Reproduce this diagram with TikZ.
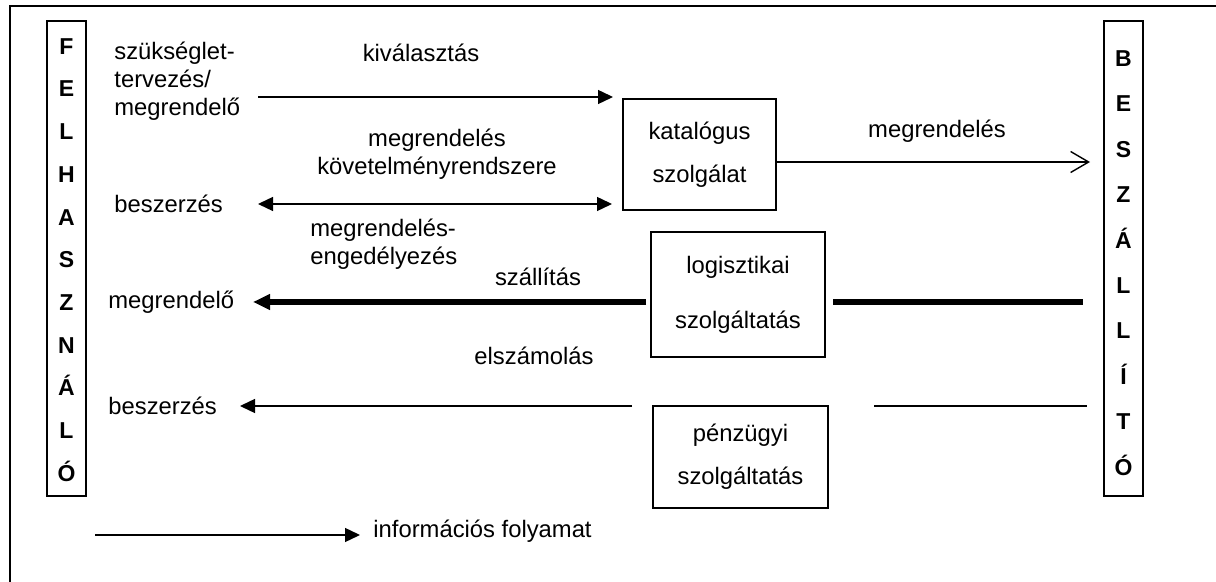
\documentclass[tikz,border=0pt]{standalone}
\usepackage{fontspec}
\setmainfont{Liberation Sans}
\usetikzlibrary{arrows.meta}
\tikzset{
  box/.style={draw,line width=0.8pt,inner sep=0pt,align=center},
  bar/.style={draw,line width=0.8pt,minimum width=19.5pt,minimum height=237.5pt},
  letter/.style={font=\fontsize{11.5}{14}\selectfont\bfseries,anchor=base,inner sep=0pt},
  txt/.style={align=left,anchor=west,inner sep=0pt},
  flow/.style={line width=0.7pt,-{Triangle[length=7.5pt,width=7pt]}},
  goods/.style={line width=3pt,-{Triangle[length=8.5pt,width=7.5pt]}},
}
\begin{document}
\begin{tikzpicture}[x=0.5pt,y=-0.5pt,font=\fontsize{11.9}{14}\selectfont]
\useasboundingbox (0,0) rectangle (1216,582);
\draw[line width=1.1pt] (10,582) -- (10,6) -- (1216,6);
% side bars
\node[bar] (felh) at (66.5,258.5) {};
\node[bar] (besz) at (1123.5,258.5) {};
\foreach \l[count=\i from 0] in {F,E,L,H,A,S,Z,N,Á,L,Ó}
    \node[letter] (f\i) at (66.5,54.3+42.7*\i) {\l};
\foreach \l[count=\i from 0] in {B,E,S,Z,Á,L,L,Í,T,Ó}
    \node[letter] (b\i) at (1123.5,66.5+45.4*\i) {\l};
% services
\node[box,minimum width=76.5pt,minimum height=55.5pt] (katalog) at (699.5,154.5) {katalógus\\[7.5pt]szolgálat};
\node[box,minimum width=87pt,minimum height=62.5pt] (logiszt) at (738,294.5) {logisztikai\\[13.5pt]szolgáltatás};
\node[box,minimum width=87.5pt,minimum height=51pt] (penz) at (740.5,457) {pénzügyi\\[7.5pt]szolgáltatás};
% labels
\node[txt] (igeny) at (114,81) {szükséglet-\\tervezés/\\megrendelő};
\node (kival) at (421,53) {kiválasztás};
\node[align=center] (kovet) at (437,154) {megrendelés\\követelményrendszere};
\node[txt] (besz1) at (114,204) {beszerzés};
\node[txt] (enged) at (310,244) {megrendelés-\\engedélyezés};
\node (szall) at (538,277) {szállítás};
\node[txt] (megr1) at (108,302) {megrendelő};
\node (elsz) at (534,356) {elszámolás};
\node[txt] (besz2) at (108,406) {beszerzés};
\node (rendel) at (937,131) {megrendelés};
\node[txt] (info) at (373,531) {információs folyamat};
% arrow ends
\coordinate (k1) at (258,97);
\coordinate (k2) at (613,97);
\coordinate (m1) at (258,204);
\coordinate (m2) at (612,204);
\coordinate (r1) at (776,162);
\coordinate (r2) at (1090,162);
\coordinate (s1) at (646,302);
\coordinate (s2) at (253,302);
\coordinate (s3) at (833,302);
\coordinate (s4) at (1083,302);
\coordinate (e1) at (632,406);
\coordinate (e2) at (240,406);
\coordinate (e3) at (874,406);
\coordinate (e4) at (1087,406);
\coordinate (i1) at (95,535);
\coordinate (i2) at (360,535);
\draw[flow] (k1) -- (k2);
\draw[flow,{Triangle[length=7.5pt,width=7pt]}-{Triangle[length=7.5pt,width=7pt]}] (m1) -- (m2);
\draw[line width=0.7pt,-{Straight Barb[length=9pt,width=10.5pt]}] (r1) -- (r2);
\draw[goods] (s1) -- (s2);
\draw[line width=3pt] (s3) -- (s4);
\draw[flow] (e1) -- (e2);
\draw[line width=0.7pt] (e3) -- (e4);
\draw[flow] (i1) -- (i2);
\end{tikzpicture}
\end{document}
